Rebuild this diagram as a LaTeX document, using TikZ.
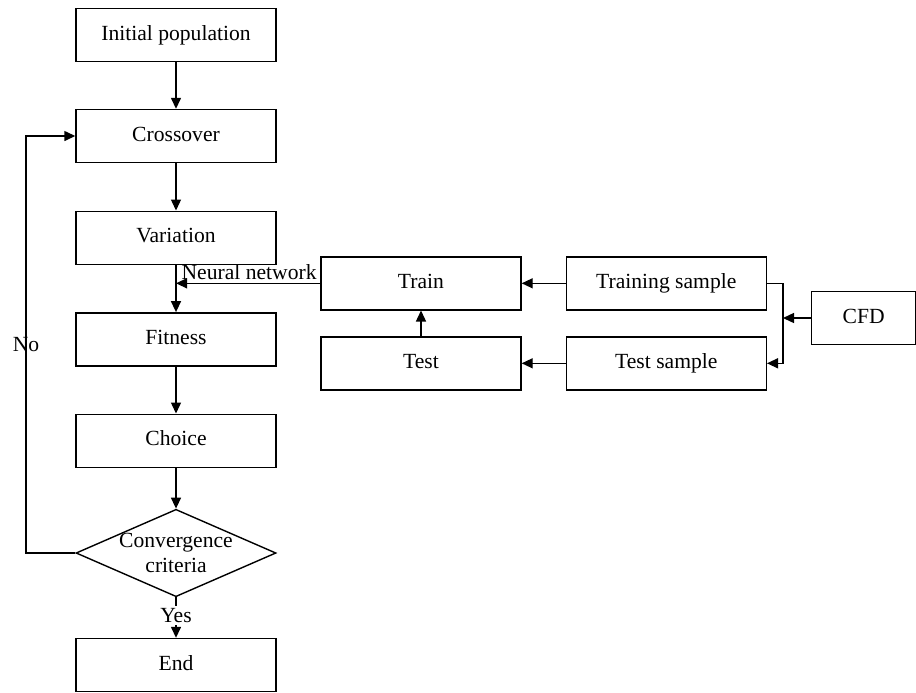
\documentclass[tikz,border=0pt]{standalone}
\usepackage{fontspec}
\setmainfont{Liberation Serif}
\usetikzlibrary{arrows.meta,shapes.geometric}

\begin{document}
\begin{tikzpicture}[x=0.5pt, y=-0.5pt,
  font=\fontsize{10.8}{12.5}\selectfont,
  box/.style={draw, line width=0.7pt, minimum width=100pt, minimum height=26.5pt,
    inner sep=2pt, text height=7.2pt, text depth=2.2pt},
  cond/.style={draw, line width=0.7pt, diamond, aspect=2.3, inner sep=-1.5pt,
    minimum width=100pt, minimum height=43.7pt, align=center},
  arr/.style={-{Triangle[length=5.5pt, width=5pt]}, line width=0.7pt}]
\useasboundingbox (0,0) rectangle (916,692);
% optimisation loop
\node[box] (init)   at (176,35)    {Initial population};
\node[box] (cross)  at (176,136)   {Crossover};
\node[box] (var)    at (176,237.7) {Variation};
\node[box] (fit)    at (176,339.3) {Fitness};
\node[box] (choice) at (176,440.7) {Choice};
\node[cond] (conv)  at (176,553)   {Convergence\\criteria};
\node[box] (end)    at (176,665)   {End};
% surrogate model
\node[box] (train) at (421,283.3)   {Train};
\node[box] (test)  at (421,363.3)   {Test};
\node[box] (trs)   at (666.3,283.3) {Training sample};
\node[box] (tss)   at (666.3,363.3) {Test sample};
\node[box, minimum width=52pt] (cfd) at (863.7,318) {CFD};
\coordinate (back) at (26,553);
\coordinate (fork) at (783,318);
\foreach \a/\b in {init/cross,cross/var,var/fit,fit/choice,choice/conv,trs/train,tss/test,test/train}
  \draw[arr] (\a) -- (\b);
\draw[arr] (conv) -- node[pos=0.45, fill=white, inner sep=1pt]{Yes} (end);
\draw[arr] (conv.west) -- (back) |- node[pos=0.25]{No} (cross.west);
\draw[arr] (train.west) -- node[pos=0, above left, inner sep=1.5pt]{Neural network} (train.west -| var.south);
\draw[arr] (trs.east) -| (fork) |- (tss.east);
\draw[arr] (cfd.west) -- (fork);
\end{tikzpicture}
\end{document}
